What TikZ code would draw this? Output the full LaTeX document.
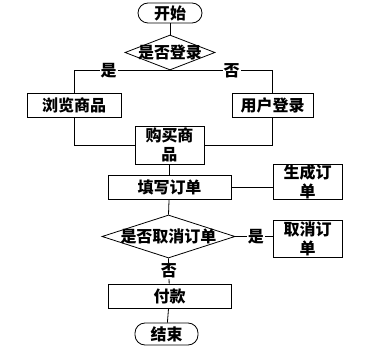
\documentclass[tikz,border=0pt]{standalone}
\usepackage{fontspec}
\setmainfont{Noto Sans CJK SC}
\usetikzlibrary{shapes.geometric}

\begin{document}
\begin{tikzpicture}[x=1pt, y=-1pt,
    txt/.style={font=\fontsize{16}{19}\selectfont\bfseries},
    box/.style={txt, draw, thick, inner sep=0pt, align=center},
    term/.style={box, rounded corners=10pt},
    ask/.style={draw, thick, diamond, inner sep=0pt, shape aspect=2},
    tag/.style={txt, fill=white, inner sep=1pt}]
  \useasboundingbox (0,0) rectangle (381,350);
  % boxes, sizes (px)
  \node[term, minimum width=64, minimum height=20] (start) at (170,13) {开始};
  \node[ask, minimum width=90, minimum height=35,
        label={[txt]center:是否登录}] (login?) at (170,52.5) {};
  \node[box, minimum width=94, minimum height=24] (browse) at (74,105) {浏览商品};
  \node[box, minimum width=81, minimum height=24] (login) at (272.5,105) {用户登录};
  \node[box, minimum width=69, minimum height=38] (buy) at (169.5,145) {购买商\\品};
  \node[box, minimum width=123, minimum height=24] (fill) at (169.5,187) {填写订单};
  \node[box, minimum width=69, minimum height=34] (gen) at (307.5,182) {生成订\\单};
  \node[ask, minimum width=133, minimum height=43,
        label={[txt]center:是否取消订单}] (cancel?) at (168.5,236.5) {};
  \node[box, minimum width=69, minimum height=37] (cancel) at (307.5,238.5) {取消订\\单};
  \node[box, minimum width=123, minimum height=24] (pay) at (169.5,296) {付款};
  \node[term, minimum width=63, minimum height=22] (stop) at (166.5,334) {结束};

  \draw[thick] (start) -- (login?);
  \draw[thick] (login?.south) -| node[tag, pos=0.32] {是} (browse.north);
  \draw[thick] (login?.south) -| node[tag, pos=0.3] {否} (login.north);
  \draw[thick] (browse.south) |- (buy.west);
  \draw[thick] (login.south) |- (buy.east);
  \draw[thick] (buy) -- (fill);
  \draw[thick] (fill.east) -- (fill.east -| gen.west);
  \draw[thick] (fill) -- (cancel?.north);
  \draw[thick] (cancel?.east) -- node[tag, pos=0.55] {是} (cancel?.east -| cancel.west);
  \draw[thick] (cancel?.south) -- node[tag] {否} (pay);
  \draw[thick] (pay) -- (stop);
\end{tikzpicture}
\end{document}
